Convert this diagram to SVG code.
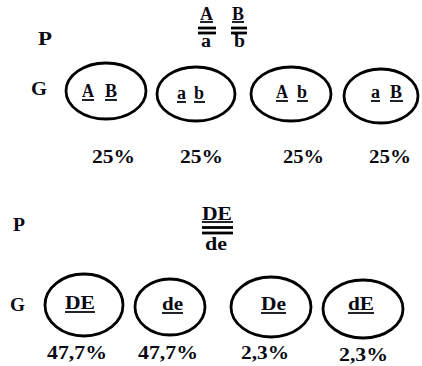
<svg xmlns="http://www.w3.org/2000/svg" width="422" height="366" viewBox="0 0 422 366">
<style>
text{font-family:"Liberation Serif","Times New Roman",serif;font-weight:bold;fill:#0a0a14;font-size:18px}
.e{fill:none;stroke:#000;stroke-width:2.8}
.u{stroke:#0a0a14;stroke-width:1.8}
.d{stroke:#000;stroke-width:2.8}
.big{font-size:19px}
</style>
<rect width="422" height="366" fill="#fff"/>
<!-- Top cross -->
<g id="p1-label"><text class="big" x="38" y="45" textLength="14" lengthAdjust="spacingAndGlyphs">P</text></g>
<g id="p1-genotype">
  <text x="200" y="20" font-size="15" textLength="13" lengthAdjust="spacingAndGlyphs">A</text>
  <line class="u" x1="200" y1="22" x2="213" y2="22"/>
  <line class="d" x1="198" y1="28" x2="216" y2="28"/>
  <line class="d" x1="198" y1="33" x2="216" y2="33"/>
  <text x="201" y="47" font-size="16" textLength="10" lengthAdjust="spacingAndGlyphs">a</text>
  <text x="232" y="20" font-size="15" textLength="12" lengthAdjust="spacingAndGlyphs">B</text>
  <line class="u" x1="232" y1="22" x2="244" y2="22"/>
  <line class="d" x1="231" y1="28" x2="247" y2="28"/>
  <line class="d" x1="231" y1="33" x2="247" y2="33"/>
  <text x="234" y="47" font-size="16" textLength="11" lengthAdjust="spacingAndGlyphs">b</text>
</g>
<g id="g1-label"><text class="big" x="31" y="95" textLength="16" lengthAdjust="spacingAndGlyphs">G</text></g>
<g id="g1-AB">
  <ellipse class="e" cx="106" cy="91" rx="40" ry="28"/>
  <text x="82" y="97" textLength="12" lengthAdjust="spacingAndGlyphs">A</text>
  <line class="u" x1="82" y1="100" x2="94" y2="100"/>
  <text x="105" y="97" textLength="12" lengthAdjust="spacingAndGlyphs">B</text>
  <line class="u" x1="105" y1="100" x2="117" y2="100"/>
</g>
<g id="g1-ab">
  <ellipse class="e" cx="196" cy="94" rx="39" ry="27"/>
  <text x="177" y="99" textLength="9" lengthAdjust="spacingAndGlyphs">a</text>
  <line class="u" x1="177" y1="102" x2="186" y2="102"/>
  <text x="194" y="99" textLength="10" lengthAdjust="spacingAndGlyphs">b</text>
  <line class="u" x1="194" y1="102" x2="205" y2="102"/>
</g>
<g id="g1-Ab">
  <ellipse class="e" cx="291" cy="94" rx="40" ry="27"/>
  <text x="276" y="98" textLength="12" lengthAdjust="spacingAndGlyphs">A</text>
  <line class="u" x1="276" y1="101" x2="288" y2="101"/>
  <text x="297" y="98" textLength="10" lengthAdjust="spacingAndGlyphs">b</text>
  <line class="u" x1="297" y1="101" x2="308" y2="101"/>
</g>
<g id="g1-aB">
  <ellipse class="e" cx="381" cy="96" rx="37" ry="27"/>
  <text x="371" y="98" textLength="9" lengthAdjust="spacingAndGlyphs">a</text>
  <line class="u" x1="371" y1="101" x2="380" y2="101"/>
  <text x="390" y="98" textLength="12" lengthAdjust="spacingAndGlyphs">B</text>
  <line class="u" x1="390" y1="101" x2="403" y2="101"/>
</g>
<g id="pct1">
  <text class="big" x="92" y="163" textLength="43" lengthAdjust="spacingAndGlyphs">25%</text>
  <text class="big" x="180" y="163" textLength="43" lengthAdjust="spacingAndGlyphs">25%</text>
  <text class="big" x="283" y="163" textLength="41" lengthAdjust="spacingAndGlyphs">25%</text>
  <text class="big" x="369" y="163" textLength="42" lengthAdjust="spacingAndGlyphs">25%</text>
</g>
<!-- Bottom cross -->
<g id="p2-label"><text class="big" x="13" y="231" textLength="12" lengthAdjust="spacingAndGlyphs">P</text></g>
<g id="p2-genotype">
  <text x="202" y="220" textLength="30" lengthAdjust="spacingAndGlyphs">DE</text>
  <line class="u" x1="202" y1="222" x2="233" y2="222"/>
  <line class="d" x1="202" y1="227.5" x2="233" y2="227.5"/>
  <line class="d" x1="202" y1="233" x2="233" y2="233"/>
  <text x="205" y="250" textLength="22" lengthAdjust="spacingAndGlyphs">de</text>
</g>
<g id="g2-label"><text class="big" x="10" y="311" textLength="15" lengthAdjust="spacingAndGlyphs">G</text></g>
<g id="g2-DE">
  <ellipse class="e" cx="84" cy="305" rx="39" ry="31"/>
  <text x="65" y="309" textLength="30" lengthAdjust="spacingAndGlyphs">DE</text>
  <line class="u" x1="65" y1="312" x2="95" y2="312"/>
</g>
<g id="g2-de">
  <ellipse class="e" cx="170" cy="307" rx="35" ry="28"/>
  <text x="162" y="310" textLength="21" lengthAdjust="spacingAndGlyphs">de</text>
  <line class="u" x1="162" y1="313" x2="183" y2="313"/>
</g>
<g id="g2-De">
  <ellipse class="e" cx="271" cy="307" rx="40" ry="30"/>
  <text x="261" y="310" textLength="25" lengthAdjust="spacingAndGlyphs">De</text>
  <line class="u" x1="261" y1="313" x2="286" y2="313"/>
</g>
<g id="g2-dE">
  <ellipse class="e" cx="363" cy="309" rx="40" ry="29"/>
  <text x="348" y="310" textLength="26" lengthAdjust="spacingAndGlyphs">dE</text>
  <line class="u" x1="348" y1="313" x2="374" y2="313"/>
</g>
<g id="pct2">
  <text class="big" x="47" y="359" textLength="60" lengthAdjust="spacingAndGlyphs">47,7%</text>
  <text class="big" x="138" y="359" textLength="60" lengthAdjust="spacingAndGlyphs">47,7%</text>
  <text class="big" x="241" y="359" textLength="48" lengthAdjust="spacingAndGlyphs">2,3%</text>
  <text class="big" x="339" y="361" textLength="49" lengthAdjust="spacingAndGlyphs">2,3%</text>
</g>
</svg>
